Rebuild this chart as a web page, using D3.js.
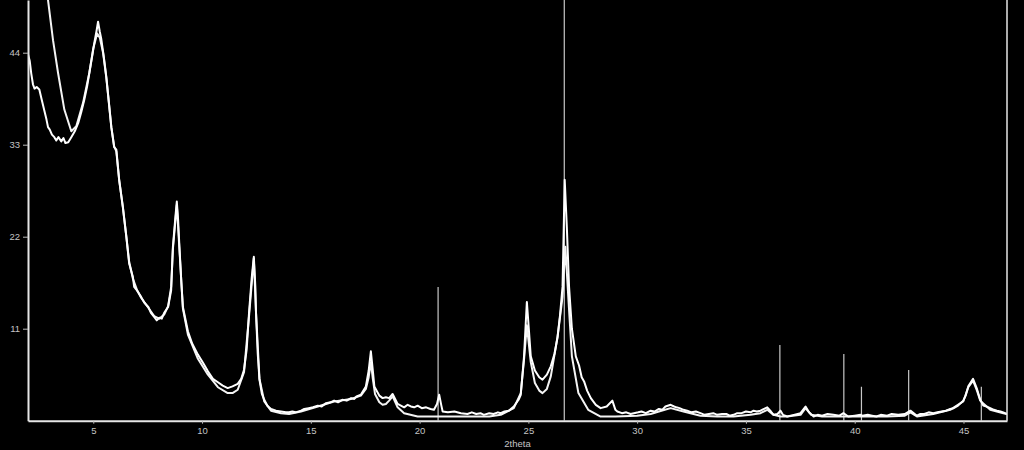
<!DOCTYPE html>
<html>
<head>
<meta charset="utf-8">
<script src="https://cdn.jsdelivr.net/npm/d3@7"></script>
<style>
  html, body { margin: 0; padding: 0; background: #000; }
  svg { display: block; }
</style>
</head>
<body>
<svg id="chart" width="1024" height="450"></svg>
<script>
// ---- data ----
const thetaObs = [
  2.00,2.08,2.15,2.23,2.30,2.40,2.52,2.62,2.75,2.85,
  2.92,3.00,3.10,3.21,3.30,3.40,3.53,3.63,3.72,3.85,
  3.99,4.15,4.31,4.45,4.59,4.72,4.82,4.95,5.05,5.15,
  5.22,5.30,5.37,5.50,5.60,5.72,5.83,5.96,6.06,6.19,
  6.36,6.52,6.65,6.82,6.88,7.00,7.20,7.35,7.53,7.65,
  7.80,7.92,8.03,8.15,8.26,8.44,8.58,8.66,8.78,8.84,
  8.90,8.96,9.05,9.12,9.35,9.55,9.81,10.05,10.27,10.50,
  10.73,10.95,11.18,11.40,11.64,11.80,11.93,12.05,12.16,12.28,
  12.38,12.45,12.48,12.56,12.64,12.75,12.86,13.00,13.17,13.40,
  13.63,13.85,14.00,14.15,14.30,14.55,14.70,14.90,15.10,15.32,
  15.50,15.70,15.90,16.07,16.25,16.45,16.65,16.85,17.00,17.10,
  17.30,17.53,17.66,17.76,17.85,17.92,18.15,18.30,18.45,18.60,
  18.76,18.99,19.29,19.45,19.60,19.75,19.91,20.10,20.30,20.50,
  20.66,20.80,20.90,21.00,21.06,21.30,21.60,21.90,22.20,22.40,
  22.60,22.80,22.95,23.20,23.40,23.60,23.73,23.90,24.10,24.33,
  24.55,24.65,24.80,24.93,25.02,25.11,25.30,25.50,25.65,25.85,
  26.03,26.20,26.34,26.45,26.57,26.67,26.77,26.87,27.00,27.18,
  27.33,27.45,27.56,27.70,27.87,28.10,28.32,28.60,28.86,29.00,
  29.09,29.30,29.50,29.70,29.85,30.05,30.20,30.40,30.62,30.80,
  31.00,31.15,31.30,31.54,31.70,31.80,31.95,32.13,32.30,32.50,
  32.70,32.91,33.10,33.30,33.50,33.68,33.90,34.10,34.25,34.43,
  34.60,34.80,35.00,35.21,35.35,35.50,35.67,35.98,36.15,36.27,
  36.45,36.59,36.70,36.90,37.20,37.51,37.74,37.90,38.11,38.30,
  38.50,38.75,39.02,39.30,39.48,39.70,40.00,40.27,40.35,40.60,
  40.80,41.00,41.20,41.49,41.70,42.00,42.30,42.56,42.86,43.00,
  43.20,43.40,43.61,43.80,44.00,44.20,44.39,44.55,44.75,44.99,
  45.10,45.22,45.44,45.62,45.77,45.91,46.05,46.23,46.40,46.54,
  46.70,46.83,47.00];
const countsObs = [
  43.8,43.0,41.5,40.2,39.7,39.9,39.6,38.5,37.1,36.0,
  35.1,34.8,34.2,33.9,33.5,33.9,33.4,33.8,33.2,33.3,
  33.9,34.6,35.6,36.9,38.4,40.0,41.6,43.6,45.2,46.6,
  47.7,46.5,45.6,43.2,41.1,38.0,35.1,32.7,32.4,28.8,
  25.6,22.0,18.8,17.2,16.0,15.6,14.8,14.1,13.6,12.9,
  12.4,12.0,12.3,12.2,12.9,13.6,15.6,20.8,24.5,26.2,
  24.0,20.8,16.5,13.6,10.7,9.2,7.9,6.9,5.9,5.0,
  4.6,4.2,3.9,4.1,4.4,5.0,6.1,8.5,12.9,17.0,
  19.6,16.0,12.9,8.0,4.9,3.2,2.5,1.8,1.4,1.2,
  1.1,1.0,1.0,1.1,1.0,1.2,1.4,1.5,1.6,1.8,
  1.7,2.1,2.2,2.4,2.2,2.5,2.4,2.7,2.6,2.9,
  3.1,4.1,6.0,8.3,6.0,4.1,3.0,2.7,2.8,2.7,
  3.2,2.0,1.6,1.9,1.7,1.6,1.8,1.5,1.6,1.4,
  1.3,2.0,3.1,1.8,1.1,1.0,1.1,0.9,0.8,1.0,
  0.8,0.9,0.7,0.9,0.8,1.0,0.9,1.1,1.2,1.7,
  2.5,3.1,7.7,14.2,11.0,7.7,6.0,5.2,4.9,5.5,
  6.5,8.0,10.0,12.5,16.0,28.8,23.0,16.0,11.0,7.7,
  6.6,5.2,4.7,3.6,2.7,1.9,1.5,1.7,2.4,1.3,
  1.1,0.9,1.0,0.8,0.9,1.0,1.1,0.9,1.2,1.1,
  1.4,1.3,1.7,1.9,1.7,1.6,1.5,1.3,1.2,1.0,
  1.1,0.9,0.7,0.8,0.9,0.7,0.8,0.8,0.6,0.7,
  0.9,0.9,1.1,1.0,1.2,1.1,1.2,1.6,1.1,0.7,
  0.8,1.2,0.7,0.5,0.7,0.9,1.7,1.0,0.5,0.7,
  0.6,0.8,0.7,0.6,0.9,0.5,0.6,0.7,0.6,0.7,
  0.6,0.5,0.7,0.6,0.8,0.7,0.8,1.2,0.6,0.8,
  0.8,1.0,0.9,1.0,1.1,1.2,1.4,1.5,1.8,2.4,
  3.0,4.1,5.0,3.8,2.5,1.8,1.7,1.5,1.3,1.2,
  1.1,1.0,0.8];

const thetaCalc = [
  2.00,2.30,2.60,2.92,3.15,3.38,3.67,3.99,4.22,4.53,
  4.82,5.00,5.18,5.30,5.45,5.60,5.83,5.96,6.06,6.19,
  6.36,6.52,6.65,6.82,7.00,7.20,7.53,7.80,8.03,8.26,
  8.44,8.58,8.66,8.84,8.96,9.12,9.35,9.81,10.27,10.73,
  11.18,11.40,11.64,11.93,12.16,12.38,12.48,12.64,12.86,13.17,
  13.63,14.00,14.55,15.32,16.07,16.85,17.30,17.53,17.66,17.76,
  17.85,17.95,18.15,18.30,18.45,18.60,18.76,18.99,19.29,19.91,
  20.66,21.50,22.50,23.20,23.73,24.33,24.65,24.80,24.93,25.11,
  25.30,25.50,25.65,25.85,26.03,26.34,26.57,26.70,26.85,27.00,
  27.30,27.75,28.32,29.00,30.00,30.62,31.00,31.54,32.13,32.91,
  33.68,34.43,35.21,35.67,35.98,36.27,36.59,36.90,37.51,37.74,
  38.00,38.50,39.48,40.27,41.49,42.30,42.56,42.86,43.61,44.39,
  44.99,45.22,45.44,45.62,45.77,46.23,46.83,47.00];
const countsCalc = [
  72,64,56,50.3,45.5,41.6,37.2,34.6,35.2,38.0,
  41.6,44.5,46.3,45.8,44.0,41.0,35.1,32.8,32.2,28.8,
  25.5,22.0,19.0,17.0,15.7,14.7,13.5,12.5,12.2,12.7,
  13.7,16.0,20.5,25.8,20.5,13.4,10.3,7.4,5.5,4.0,
  3.3,3.3,3.7,5.8,12.5,19.4,13.0,5.0,2.3,1.2,
  0.9,0.8,1.1,1.7,2.3,2.6,3.0,3.8,5.2,7.0,
  5.0,3.2,2.2,1.9,2.0,2.4,2.9,1.6,0.9,0.5,
  0.5,0.5,0.5,0.5,0.7,1.5,3.3,7.3,11.4,7.0,
  4.5,3.6,3.3,3.8,5.3,10.0,14.8,20.8,14.1,7.7,
  3.3,1.3,0.5,0.5,0.6,0.8,1.1,1.5,1.1,0.6,
  0.5,0.5,0.7,0.9,1.3,0.7,0.5,0.5,0.7,1.5,
  0.7,0.5,0.5,0.5,0.5,0.6,1.0,0.5,0.8,1.3,
  2.3,4.0,4.8,3.6,2.4,1.3,0.9,0.8];

const stickTheta  = [20.85, 26.65, 36.56, 39.50, 40.31, 42.48, 45.82];
const stickHeight = [16.0, 60.0, 9.05, 7.98, 4.07, 6.06, 4.07];

const xTicks = [5, 10, 15, 20, 25, 30, 35, 40, 45];
const yTicks = [11, 22, 33, 44];
const xTitle = "2theta";

// ---- layout ----
const svg = d3.select("#chart");
const plotLeft = 28, plotRight = 1007, plotBottom = 420.7, plotTop = 0;
const FONT = "Liberation Sans, Arial, sans-serif";

const x = d3.scaleLinear().domain([2, 47]).range([plotLeft, plotRight]);
const y = d3.scaleLinear().domain([0, 50.3]).range([plotBottom, plotTop]);

svg.append("rect").attr("width", 1024).attr("height", 450).attr("fill", "#000");

svg.append("defs").append("clipPath").attr("id", "plot")
  .append("rect").attr("x", plotLeft).attr("y", plotTop)
  .attr("width", plotRight - plotLeft).attr("height", plotBottom - plotTop);

const g = svg.append("g").attr("clip-path", "url(#plot)");

// stick pattern
g.selectAll("line.stick").data(stickTheta).join("line")
  .attr("class", "stick")
  .attr("x1", d => x(d)).attr("x2", d => x(d))
  .attr("y1", y(0)).attr("y2", (d, i) => y(stickHeight[i]))
  .attr("stroke", "#c8c8c8").attr("stroke-width", 1.2);

const line = d3.line().x(d => x(d[0])).y(d => y(d[1]));

g.append("path")
  .datum(d3.zip(thetaCalc, countsCalc))
  .attr("d", line).attr("fill", "none")
  .attr("stroke", "#f4f4f4").attr("stroke-width", 2).attr("stroke-linejoin", "round");

g.append("path")
  .datum(d3.zip(thetaObs, countsObs))
  .attr("d", line).attr("fill", "none")
  .attr("stroke", "#ffffff").attr("stroke-width", 2).attr("stroke-linejoin", "round");

// axes
const xAxis = d3.axisBottom(x).tickValues(xTicks).tickSize(3).tickSizeOuter(0).tickPadding(4);
const yAxis = d3.axisLeft(y).tickValues(yTicks).tickSize(5).tickSizeOuter(0).tickPadding(3);

const gx = svg.append("g").attr("transform", `translate(0,${plotBottom})`).call(xAxis);
const gy = svg.append("g").attr("transform", `translate(${plotLeft},0)`).call(yAxis);

[gx, gy].forEach(a => {
  a.select(".domain").attr("stroke", "#e6e6e6").attr("stroke-width", 2);
  a.selectAll(".tick line").attr("stroke", "#bbbbbb");
  a.selectAll(".tick text").attr("fill", "#c4c4c4")
    .style("font-family", FONT).style("font-size", "9.5px");
});

// right border
svg.append("line").attr("x1", plotRight).attr("x2", plotRight).attr("y1", plotTop).attr("y2", plotBottom)
  .attr("stroke", "#e6e6e6").attr("stroke-width", 1.5);

svg.append("text").attr("x", (plotLeft + plotRight) / 2).attr("y", 446.5)
  .attr("text-anchor", "middle").attr("fill", "#c4c4c4")
  .style("font-family", FONT).style("font-size", "9.5px")
  .text(xTitle);
</script>
</body>
</html>
